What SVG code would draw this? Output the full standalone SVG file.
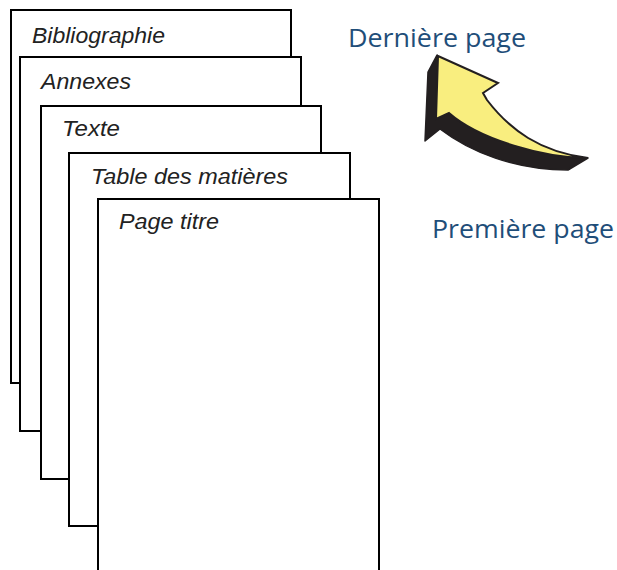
<svg xmlns="http://www.w3.org/2000/svg" width="617" height="570" viewBox="0 0 617 570">
<style>
.page{fill:#fff;stroke:#000;stroke-width:2}
.lbl{font-family:"Liberation Sans",Arial,sans-serif;font-style:italic;font-size:21.5px;fill:#222}
.blue{font-family:"Open Sans","Noto Sans",sans-serif;font-size:25.5px;fill:#1F4E79}
</style>
<rect width="617" height="570" fill="#fff"/>
<g id="bibliographie"><rect class="page" x="11" y="10" width="280" height="373"/><text class="lbl" x="32" y="43" textLength="133" lengthAdjust="spacingAndGlyphs">Bibliographie</text></g>
<g id="annexes"><rect class="page" x="20" y="57" width="281" height="374"/><text class="lbl" x="41" y="89" textLength="90" lengthAdjust="spacingAndGlyphs">Annexes</text></g>
<g id="texte"><rect class="page" x="41" y="106" width="280" height="373"/><text class="lbl" x="62" y="136" textLength="58" lengthAdjust="spacingAndGlyphs">Texte</text></g>
<g id="table"><rect class="page" x="69" y="153" width="281" height="373"/><text class="lbl" x="91" y="184" textLength="197" lengthAdjust="spacingAndGlyphs">Table des matières</text></g>
<g id="pagetitre"><rect class="page" x="98" y="199" width="281" height="380"/><text class="lbl" x="119" y="229" textLength="100" lengthAdjust="spacingAndGlyphs">Page titre</text></g>
<g id="arrow">
<path d="M437,55 L428,72 L425,141 L440,129 C470,152 515,170 568,170 L588,158 C545,158 480,140 449,113 L436,119 Z" fill="#231f20" stroke="#231f20" stroke-width="1.5" stroke-linejoin="round"/>
<path d="M438,56 L498,83 L483,93 L487,100 C510,130 540,152 588,158 C545,158 480,140 449,113 L436,119 Z" fill="#f9ee7f" stroke="#231f20" stroke-width="2" stroke-linejoin="miter"/>
</g>
<g id="labels">
<text class="blue" x="348" y="47" textLength="178" lengthAdjust="spacingAndGlyphs">Dernière page</text>
<text class="blue" x="432" y="238" textLength="182" lengthAdjust="spacingAndGlyphs">Première page</text>
</g>
</svg>
